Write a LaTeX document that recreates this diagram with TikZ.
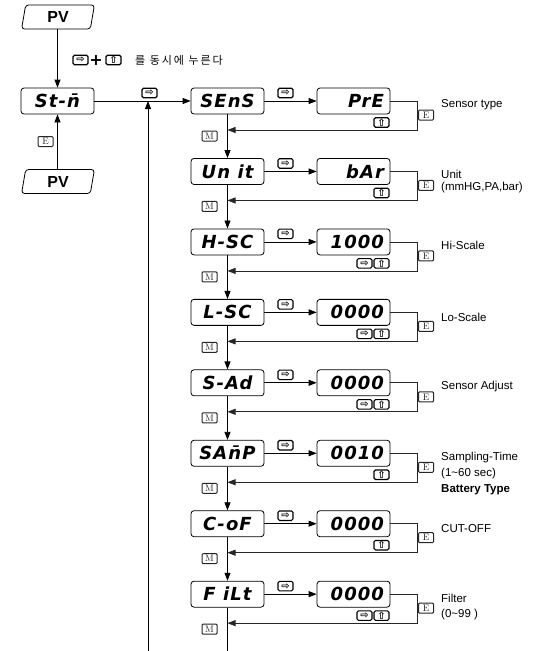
\documentclass[tikz,border=0pt]{standalone}
\usepackage{fontspec}
\newfontfamily\labfont{Liberation Sans}
\newfontfamily\segfont{DejaVu Sans}[LetterSpace=6]
\newfontfamily\symfont{DejaVu Sans}
\newfontfamily\krfont{Noto Sans CJK KR}[LetterSpace=18]
\usetikzlibrary{arrows.meta,shapes.geometric}
\begin{document}
\begin{tikzpicture}[x=1pt,y=-1pt,
  line/.style={line width=0.8pt},
  arr/.style={line width=0.8pt,-{Triangle[length=8pt,width=6pt]}},
  brk/.style={line width=0.7pt,black!85,-{Triangle[length=8pt,width=6pt]}},
  disp/.style={draw,line width=0.8pt,rounded corners=3pt,minimum width=73pt,minimum height=26pt,inner sep=0pt,font=\segfont\bfseries\itshape\fontsize{18}{18}\selectfont},
  dispr/.style={disp,inner xsep=6pt,text width=61pt,align=right},
  pvbox/.style={trapezium,trapezium left angle=83,trapezium right angle=97,trapezium stretches=true,draw,line width=0.8pt,rounded corners=3pt,minimum width=73pt,minimum height=24pt,inner sep=0pt,font=\labfont\bfseries\fontsize{16}{16}\selectfont},
  akey/.style={draw,line width=1.1pt,rounded corners=1.5pt,minimum width=15pt,minimum height=9.5pt,inner sep=0pt,font=\symfont\bfseries\fontsize{10}{10}\selectfont},
  lkey/.style={draw,line width=1pt,black!85,rounded corners=1pt,minimum width=15pt,minimum height=10pt,inner sep=0pt,font=\fontsize{9.5}{9.5}\selectfont},
  lab/.style={anchor=west,align=left,inner sep=0pt,font=\labfont\fontsize{11.5}{12}\selectfont}
]
\useasboundingbox (0,0) rectangle (535,651);

% left part
\node[pvbox] (pv1) at (58,17) {PV};
\node[disp] (stn) at (57.5,101) {St-\=n};
\node[pvbox] (pv2) at (58,181.5) {PV};
\draw[arr] (pv1.south -| stn.north) -- (stn.north);
\draw[arr] (pv2.north -| stn.south) -- (stn.south);
\node[lkey] (estn) at (45.5,141.5) {E};

% instruction
\node[akey] (i1) at (80.5,60) {⇨};
\node[font=\symfont\bfseries\fontsize{16}{16}\selectfont,inner sep=0pt] (plus) at (96,60) {+};
\node[akey] (i2) at (113.5,60) {⇧};
\node[anchor=west,inner sep=0pt,font=\krfont\fontsize{11}{11}\selectfont] (ktext) at (135,60) {를 동시에 누른다};

% rows
\foreach \i/\ltxt/\rtxt in {0/SEnS/PrE,1/{Un it}/bAr,2/H-SC/1000,3/L-SC/0000,4/S-Ad/0000,5/{SA\=nP}/0010,6/C-oF/0000,7/{F iLt}/0000}{
  \pgfmathsetmacro\T{88+70.45*\i}
  \pgfmathsetmacro\Tc{\T+13}
  \pgfmathsetmacro\Tk{\T+5}
  \pgfmathsetmacro\Tm{\T+48}
  \pgfmathsetmacro\Tf{\T+42}
  \pgfmathsetmacro\Te{\T+27}
  \pgfmathsetmacro\Tu{\T+34.5}
  \node[disp] (L\i) at (227.5,\Tc) {\ltxt};
  \node[dispr] (R\i) at (353.5,\Tc) {\rtxt};
  \draw[arr] (L\i) -- (R\i);
  \node[akey] (K\i) at (285.5,\Tk) {⇨};
  \node[lkey] (M\i) at (209.5,\Tm) {M};
  \coordinate (F\i) at (227.5,\Tf);
  \coordinate (B\i) at (417,\Tf);
  \draw[brk] (R\i.east) -| (B\i) -- (F\i);
  \node[lkey,anchor=west] (E\i) at (418,\Te) {E};
  \node[akey] (U\i) at (381.5,\Tu) {⇧};
}
\foreach \i in {2,3,4,7}{
  \pgfmathsetmacro\Tu{88+70.45*\i+34.5}
  \node[akey] (V\i) at (364.5,\Tu) {⇨};
}
\foreach \i [evaluate=\i as \j using int(\i+1)] in {0,...,6}{
  \draw[arr] (L\i) -- (L\j);
}
\coordinate (colend) at (227.5,651);
\draw[line] (L7.south) -- (colend);

% main line and return
\draw[arr] (stn.east) -- (L0.west);
\node[akey] (kmain) at (149.5,93) {⇨};
\coordinate (upend) at (148,651);
\draw[arr] (upend) -- (upend |- stn.east);

% labels
\node[lab] (t0) at (441,105) {Sensor type};
\node[lab] (t1) at (441,182) {Unit\\(mmHG,PA,bar)};
\node[lab] (t2) at (441,245) {Hi-Scale};
\node[lab] (t3) at (441,317) {Lo-Scale};
\node[lab] (t4) at (441,387) {Sensor Adjust};
\node[lab,font=\labfont\fontsize{11.5}{16}\selectfont] (t5) at (441,474) {Sampling-Time\\(1\char`~60 sec)\\\textbf{Battery Type}};
\node[lab] (t6) at (441,529) {CUT-OFF};
\node[lab,font=\labfont\fontsize{11.5}{15}\selectfont] (t7) at (441,607.5) {Filter\\(0\char`~99 )};
\end{tikzpicture}
\end{document}
